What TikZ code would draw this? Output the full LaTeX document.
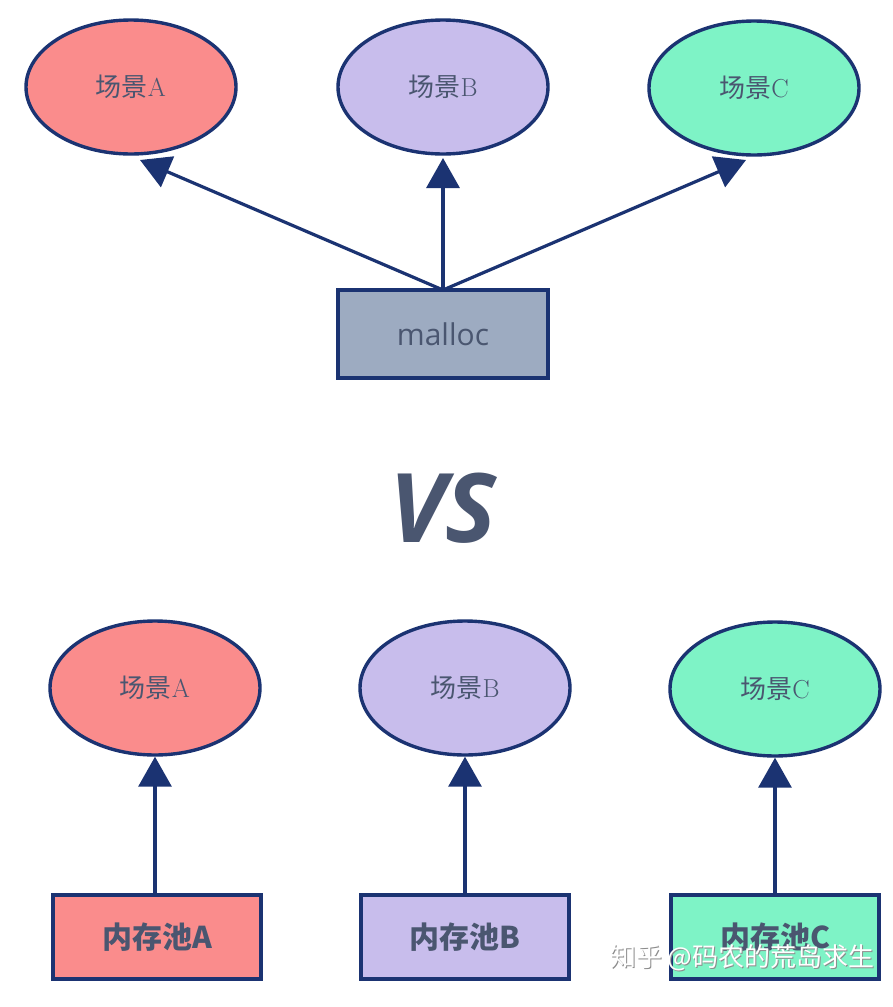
\documentclass[tikz,border=0pt]{standalone}
\usepackage{fontspec}
\setsansfont{Open Sans}
\newfontfamily\cjk{Noto Sans CJK SC}
\usetikzlibrary{arrows.meta,shapes.geometric}
\definecolor{navy}{HTML}{1B3372}
\definecolor{txt}{HTML}{4A5670}
\definecolor{fa}{HTML}{FA8C8C}
\definecolor{fb}{HTML}{C8BDEC}
\definecolor{fc}{HTML}{7EF3C6}
\definecolor{fm}{HTML}{9DABC1}
\tikzset{
  scene/.style={ellipse,draw=navy,line width=3.4pt,minimum width=210pt,minimum height=134pt,text=txt,font=\fontsize{26}{26}\selectfont},
  pool/.style={rectangle,draw=navy,line width=3.4pt,minimum width=208pt,minimum height=84pt,text=txt,font=\cjk\bfseries\fontsize{30}{30}\selectfont},
  conn/.style={draw=navy,line width=3.2pt,-{Triangle[length=30pt,width=33pt]}},
}
\begin{document}
\begin{tikzpicture}[x=1pt,y=1pt]
\useasboundingbox (0,0) rectangle (893,-1007);
\fill[white] (0,0) rectangle (893,-1007);
% top
\node[scene,fill=fa] (ta) at (131,-87) {{\cjk 场景}A};
\node[scene,fill=fb] (tb) at (443,-87) {{\cjk 场景}B};
\node[scene,fill=fc] (tc) at (754,-88) {{\cjk 场景}C};
\node[rectangle,draw=navy,line width=3.4pt,fill=fm,minimum width=210pt,minimum height=88pt,text=txt,font=\sffamily\fontsize{30}{30}\selectfont] (m) at (443,-334) {malloc};
\coordinate (mt) at (443,-290);
\coordinate (tipa) at (140,-160);
\coordinate (tipb) at (443,-158);
\coordinate (tipc) at (746,-160);
\draw[conn] (mt) -- (tipa);
\draw[conn] (mt) -- (tipb);
\draw[conn] (mt) -- (tipc);
% VS
\node[text=txt,font=\sffamily\bfseries\itshape\fontsize{96}{96}\selectfont] (vs) at (443,-508) {VS};
% bottom
\node[scene,fill=fa] (ba) at (155,-688) {{\cjk 场景}A};
\node[scene,fill=fb] (bb) at (465,-688) {{\cjk 场景}B};
\node[scene,fill=fc] (bc) at (775,-689) {{\cjk 场景}C};
\node[pool,fill=fa] (pa) at (157,-937) {内存池A};
\node[pool,fill=fb] (pb) at (465,-937) {内存池B};
\node[pool,fill=fc] (pc) at (775,-937) {内存池C};
\draw[conn] (pa.north -| ba.south) -- (ba.south);
\draw[conn] (pb) -- (bb);
\draw[conn] (pc) -- (bc);
% watermark
\node[text=black!45,font=\cjk\fontsize{26}{26}\selectfont,anchor=east] (wms) at (879,-959) {知乎 @码农的荒岛求生};
\node[text=white,font=\cjk\fontsize{26}{26}\selectfont,anchor=east] (wm) at (878,-958) {知乎 @码农的荒岛求生};
\end{tikzpicture}
\end{document}
